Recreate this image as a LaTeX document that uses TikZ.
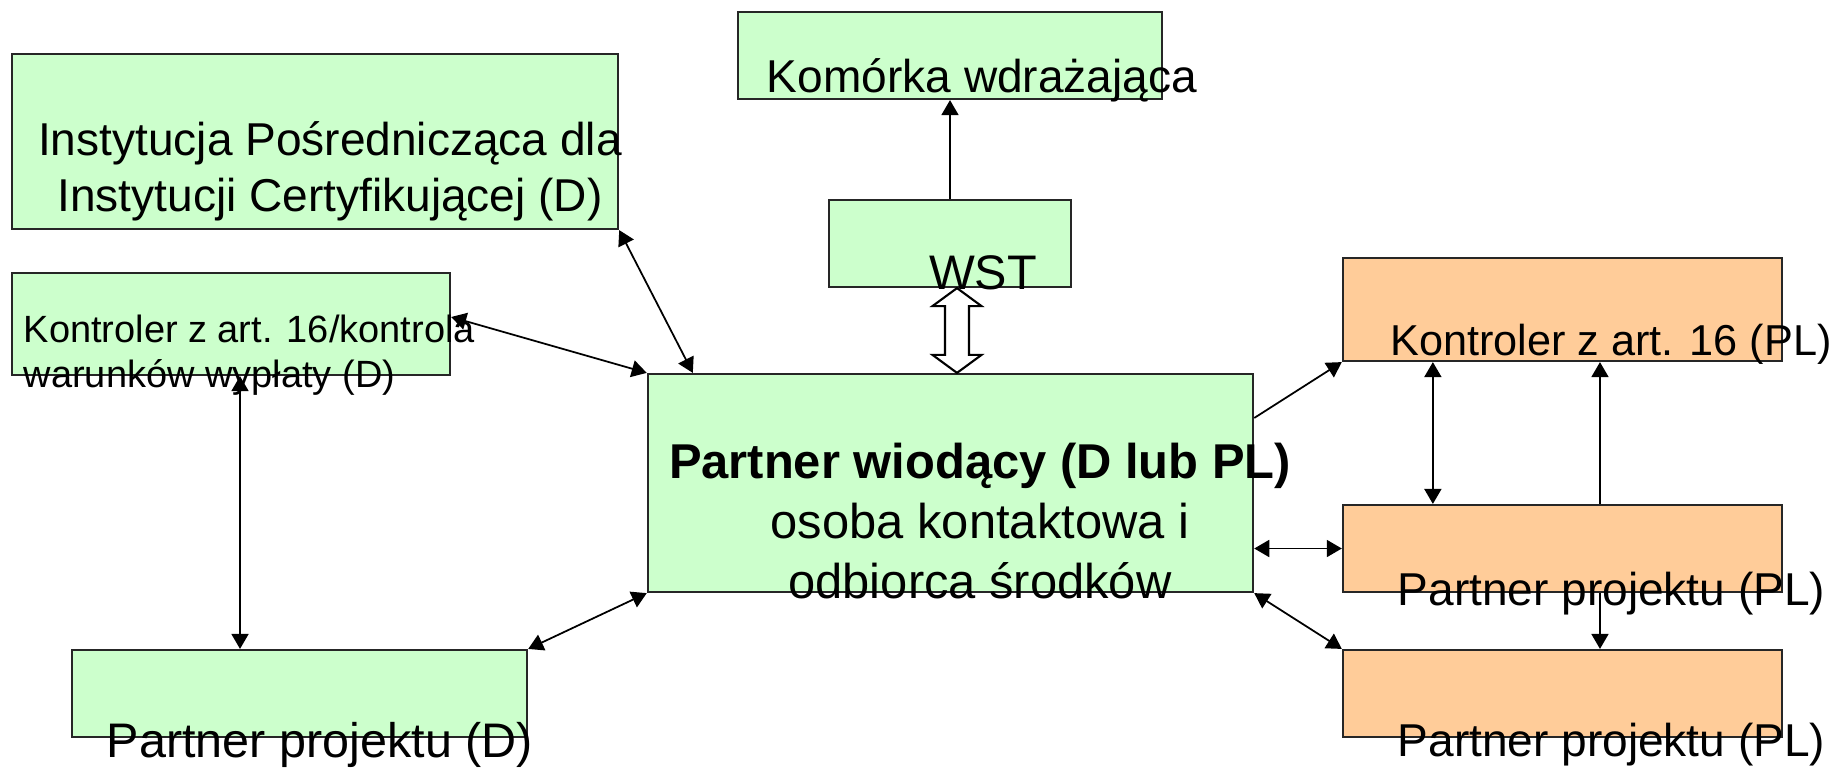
\documentclass[tikz,border=0pt]{standalone}
\usepackage{fontspec}
\setmainfont{Liberation Sans}
\usepackage{tikz}
\usetikzlibrary{arrows.meta}
\usetikzlibrary{calc}

\definecolor{boxgreen}{HTML}{CCFFCC}
\definecolor{boxorange}{HTML}{FFCC99}

\tikzset{
  >={Triangle[length=0.15cm,width=0.17cm]},
  box/.style={draw=black!85, line width=0.6pt, inner sep=0pt},
  de/.style={box, fill=boxgreen},
  pl/.style={box, fill=boxorange},
  txt/.style={inner sep=0pt, font=\fontsize{13.1}{15.9}\selectfont},
  link/.style={line width=0.5pt}
}

\begin{document}
\begin{tikzpicture}[x=0.01cm,y=-0.01cm]
    \useasboundingbox (0,0) rectangle (1836,769);
    % boxes
    \node[de, minimum width=6.06cm, minimum height=1.75cm] (ipcd) at (315,141.5) {};
    \node[de, minimum width=4.38cm, minimum height=1.02cm] (kontrd) at (231,324) {};
    \node[de, minimum width=4.55cm, minimum height=0.87cm] (partnerd) at (299.5,693.5) {};
    \node[de, minimum width=4.24cm, minimum height=0.87cm] (komorka) at (950,55.5) {};
    \node[de, minimum width=2.42cm, minimum height=0.87cm] (wst) at (950,243.5) {};
    \node[de, minimum width=6.05cm, minimum height=2.18cm] (lead) at (950.5,483) {};
    \node[pl, minimum width=4.39cm, minimum height=1.03cm] (kontrpl) at (1562.5,309.5) {};
    \node[pl, minimum width=4.39cm, minimum height=0.87cm] (partnerpla) at (1562.5,548.5) {};
    \node[pl, minimum width=4.39cm, minimum height=0.87cm] (partnerplb) at (1562.5,693.5) {};

    % texts
    \node[txt, align=center, anchor=base] (ipcdtext) at (330,211) {Instytucja Pośrednicząca dla\\Instytucji Certyfikującej (D)};
    \node[txt, align=left, anchor=base west, font=\fontsize{10.8}{12.8}\selectfont] (kontrdtext) at (23,387) {Kontroler z art. 16/kontrola\\warunków wypłaty (D)};
    \node[txt, anchor=base, font=\fontsize{13.8}{16}\selectfont] (partnerdtext) at (320,757) {Partner projektu (D)};
    \node[txt, anchor=base] (komorkatext) at (982,92) {Komórka wdrażająca};
    \node[txt, anchor=base, font=\fontsize{13.8}{16}\selectfont] (wsttext) at (983,289) {WST};
    \node[txt, align=center, anchor=base, font=\fontsize{13.9}{17}\selectfont] (leadtext) at (980,598) {\textbf{Partner wiodący (D lub PL)}\\osoba kontaktowa i\\odbiorca środków};
    \node[txt, anchor=base, font=\fontsize{12.3}{15}\selectfont] (kontrpltext) at (1611,355) {Kontroler z art. 16 (PL)};
    \node[txt, anchor=base] (partnerplatext) at (1611.5,605) {Partner projektu (PL)};
    \node[txt, anchor=base] (partnerplbtext) at (1611.5,756) {Partner projektu (PL)};

    % links
    \draw [link,<->] (ipcd.south east) -- ([xshift=0.46cm]lead.north west);
    \draw [link,<->] ([yshift=0.07cm]kontrd.east) -- (lead.north west);
    \draw [link,<->] ([xshift=0.09cm]kontrd.south) -- ([xshift=0.09cm]kontrd.south |- partnerd.north);
    \draw [link,<->] (partnerd.north east) -- (lead.south west);
    \draw [link,->] (wst.north) -- (komorka.south);
    \draw [link,->] ([yshift=0.65cm]lead.east) -- (kontrpl.south west);
    \draw [link,<->] (lead.east |- partnerpla.west) -- (partnerpla.west);
    \draw [link,<->] (lead.south east) -- (partnerplb.north west);
    \draw [link,<->] ([xshift=0.91cm]kontrpl.south west) -- ([xshift=0.91cm]kontrpl.south west |- partnerpla.north);
    \draw [link,->] ([xshift=2.58cm]partnerpla.north west) -- ([xshift=2.58cm]partnerpla.north west |- kontrpl.south);
    \draw [link,->] ([xshift=2.58cm]partnerpla.south west) -- ([xshift=2.58cm]partnerpla.south west |- partnerplb.north);

    % hollow double arrow WST - lead partner
    \coordinate (hollowtop) at ([xshift=0.07cm]wst.south);
    \coordinate (hollowbot) at ([xshift=0.07cm]wst.south |- lead.north);
    \draw [line width=0.6pt, fill=white] (hollowtop) -- ++(24.5,18) -- ++(-12.5,0)
      -- ($(hollowbot)+(12,-18)$) -- ++(12.5,0) -- (hollowbot) -- ++(-24.5,-18) -- ++(12.5,0)
      -- ($(hollowtop)+(-12,18)$) -- ++(-12.5,0) -- cycle;
\end{tikzpicture}
\end{document}
